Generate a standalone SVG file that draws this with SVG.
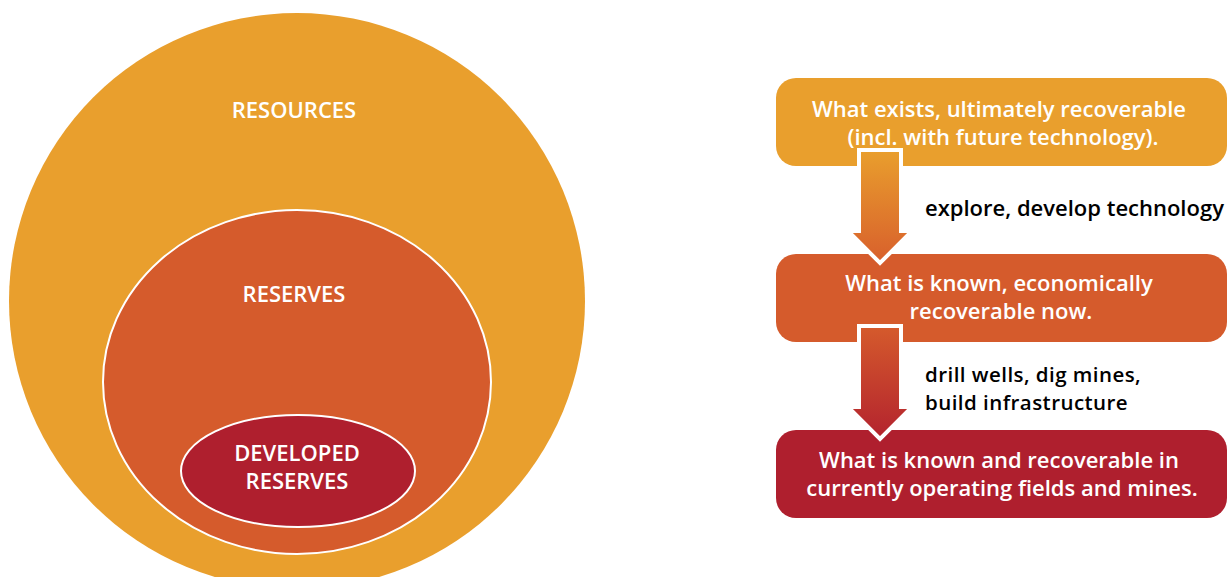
<svg xmlns="http://www.w3.org/2000/svg" width="1227" height="577" viewBox="0 0 1227 577">
<defs>
<linearGradient id="g1" x1="0" y1="0" x2="0" y2="1"><stop offset="0" stop-color="#E99F2D"/><stop offset="1" stop-color="#D85F2C"/></linearGradient>
<linearGradient id="g2" x1="0" y1="0" x2="0" y2="1"><stop offset="0" stop-color="#D55B2C"/><stop offset="1" stop-color="#B3222E"/></linearGradient>
<style>
.w{fill:#fff;font-family:"Open Sans","Noto Sans",sans-serif;font-weight:600;text-anchor:middle;font-size:22px}
.b{fill:#000;font-family:"Open Sans","Noto Sans",sans-serif;font-weight:600;font-size:22px}
.b2{fill:#000;font-family:"Open Sans","Noto Sans",sans-serif;font-weight:600;font-size:20.5px;letter-spacing:0.45px}
.arr{stroke:#fff;stroke-width:4;stroke-linejoin:miter}
</style>
</defs>
<rect width="1227" height="577" fill="#fff"/>
<g id="resources">
<circle cx="297" cy="301" r="288" fill="#E99F2D"/>
<text class="w" x="294" y="118">RESOURCES</text>
</g>
<g id="reserves">
<ellipse cx="297" cy="382" rx="194" ry="172" fill="#D55B2C" stroke="#fff" stroke-width="2"/>
<text class="w" x="294" y="302">RESERVES</text>
</g>
<g id="developed">
<ellipse cx="298" cy="471" rx="117" ry="56" fill="#AF1F2E" stroke="#fff" stroke-width="2"/>
<text class="w" x="297" y="461">DEVELOPED</text>
<text class="w" x="297" y="489">RESERVES</text>
</g>
<g id="box1">
<rect x="776" y="78" width="451" height="88" rx="20" fill="#E99F2D"/>
<text class="w" x="999" y="117">What exists, ultimately recoverable</text>
<text class="w" x="1003" y="145">(incl. with future technology).</text>
</g>
<g id="box2">
<rect x="776" y="254" width="451" height="88" rx="20" fill="#D55B2C"/>
<text class="w" x="999" y="291">What is known, economically</text>
<text class="w" x="1001" y="319">recoverable now.</text>
</g>
<g id="box3">
<rect x="776" y="430" width="451" height="88" rx="20" fill="#AF1F2E"/>
<text class="w" x="999" y="468">What is known and recoverable in</text>
<text class="w" x="1002" y="496">currently operating fields and mines.</text>
</g>
<g id="connectors">
<path class="arr" fill="url(#g1)" d="M859,150 H901 V231 H912 L880,263 L848,231 H859 Z"/>
<text class="b" x="925" y="216">explore, develop technology</text>
<path class="arr" fill="url(#g2)" d="M859,326 H901 V407 H912 L880,439 L848,407 H859 Z"/>
<text class="b2" x="925" y="382">drill wells, dig mines,</text>
<text class="b2" x="925" y="410">build infrastructure</text>
</g>
</svg>
